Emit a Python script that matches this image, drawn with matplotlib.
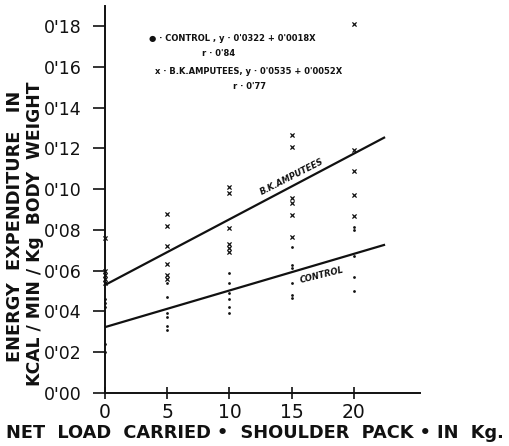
"""Energy expenditure vs net load carried (shoulder pack): control vs B.K. amputees."""
import matplotlib
matplotlib.use("Agg")
import matplotlib.pyplot as plt
import numpy as np

INK = "#111111"

# data (load in kg, energy in kcal/min/kg body weight)
amp_x = [0, 0, 0, 0, 0,
         5, 5, 5, 5, 5, 5,
         10, 10, 10, 10, 10, 10,
         15, 15, 15, 15, 15, 15,
         20, 20, 20, 20, 20]
amp_y = [0.076, 0.060, 0.058, 0.056, 0.054,
         0.088, 0.082, 0.072, 0.063, 0.058, 0.056,
         0.101, 0.098, 0.081, 0.073, 0.071, 0.069,
         0.1265, 0.1205, 0.0955, 0.093, 0.0875, 0.0765,
         0.181, 0.119, 0.109, 0.097, 0.087]
ctl_x = [0, 0, 0, 0, 0,
         5, 5, 5, 5, 5, 5,
         10, 10, 10, 10, 10, 10,
         15, 15, 15, 15, 15, 15,
         20, 20, 20, 20, 20]
ctl_y = [0.046, 0.044, 0.042, 0.024, 0.020,
         0.054, 0.047, 0.039, 0.037, 0.033, 0.031,
         0.059, 0.054, 0.049, 0.046, 0.042, 0.039,
         0.0715, 0.0627, 0.061, 0.054, 0.048, 0.0465,
         0.0815, 0.080, 0.067, 0.0566, 0.050]

# fitted lines given on the chart
ctl_a, ctl_b = 0.0322, 0.0018
amp_a, amp_b = 0.0535, 0.0052
fit_x = np.array([0, 22.5])
amp_fit_y = np.array([0.0529, 0.1255])   # drawn line as it appears
ctl_fit_y = ctl_a + ctl_b * fit_x

xticks = [0, 5, 10, 15, 20]
xtick_labels = ["0", "5", "10", "15", "20"]
yticks = [0.00, 0.02, 0.04, 0.06, 0.08, 0.10, 0.12, 0.14, 0.16, 0.18]
ytick_labels = ["0'00", "0'02", "0'04", "0'06", "0'08", "0'10",
                "0'12", "0'14", "0'16", "0'18"]

plt.rcParams.update({"font.family": ["DejaVu Sans"], "text.color": INK})

fig = plt.figure(figsize=(5.09, 4.46), dpi=100)
ax = fig.add_axes([0.2063, 0.1195, 0.6187, 0.8675])

ax.plot(fit_x, amp_fit_y, color=INK, lw=1.6, solid_capstyle="butt")
ax.plot(fit_x, ctl_fit_y, color=INK, lw=1.6, solid_capstyle="butt")
ax.scatter(amp_x, amp_y, marker="x", s=9, color=INK, linewidths=0.9, clip_on=False, zorder=3)
ax.scatter(ctl_x, ctl_y, marker="o", s=4, color=INK, linewidths=0, clip_on=False, zorder=3)

ax.set_xlim(0, 25.3)
ax.set_ylim(0, 0.19)
for s in ("top", "right"):
    ax.spines[s].set_visible(False)
for s in ("left", "bottom"):
    ax.spines[s].set_linewidth(1.4)
    ax.spines[s].set_color(INK)

ax.set_xticks(xticks, xtick_labels, fontsize=13.5)
ax.set_yticks(yticks, ytick_labels, fontsize=12.5)
ax.tick_params(axis="x", direction="inout", length=9, width=1.2, pad=3, colors=INK)
ax.tick_params(axis="y", direction="out", length=9, width=1.2, pad=8, colors=INK)
for t in ax.get_xticklabels() + ax.get_yticklabels():
    t.set_fontweight("medium")

# equations block
eq = dict(fontsize=6, ha="center", va="center", color=INK, fontweight="bold")
ax.text(10.2, 0.1738, "\u25cf \u00b7 CONTROL , y \u00b7 0'0322 + 0'0018X", **eq)
ax.text(9.1, 0.1664, "r \u00b7 0'84", **eq)
ax.text(11.5, 0.1575, "x \u00b7 B.K.AMPUTEES, y \u00b7 0'0535 + 0'0052X", **eq)
ax.text(11.6, 0.1504, "r \u00b7 0'77", **eq)

ax.text(15.0, 0.1058, "B.K.AMPUTEES", fontsize=6, rotation=27, ha="center", va="center",
        style="italic", fontweight="bold")
ax.text(17.4, 0.0578, "CONTROL", fontsize=6, rotation=14, ha="center", va="center",
        style="italic", fontweight="bold")

fig.text(0.029, 0.493, "ENERGY  EXPENDITURE   IN", rotation=90, ha="center", va="center",
         fontsize=12.8, fontweight="bold")
fig.text(0.069, 0.477, "KCAL / MIN / Kg  BODY  WEIGHT", rotation=90, ha="center", va="center",
         fontsize=12.3, fontweight="bold")
fig.text(0.5, 0.029, "NET  LOAD  CARRIED \u2022  SHOULDER  PACK \u2022 IN  Kg.", ha="center",
         va="center", fontsize=12.8, fontweight="bold")

fig.savefig("out.png", dpi=100, facecolor="white")
